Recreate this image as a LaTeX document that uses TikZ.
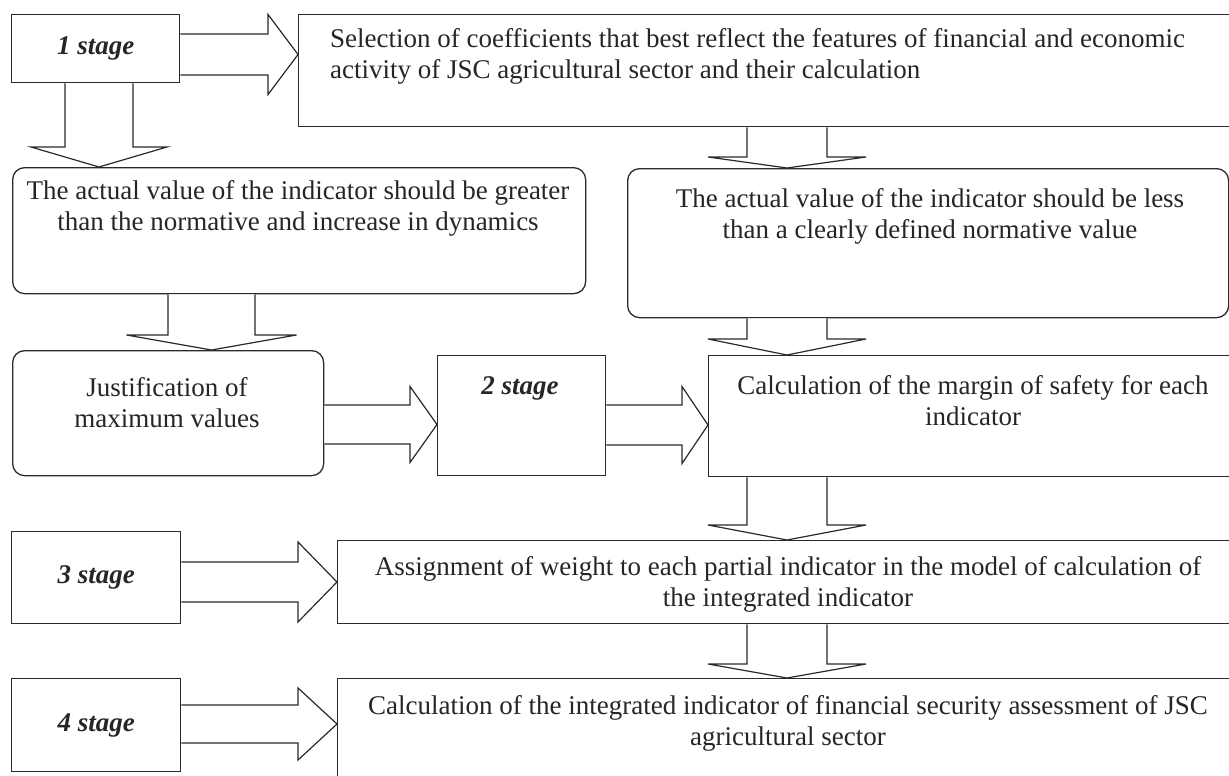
\documentclass[tikz,border=0pt]{standalone}
\usepackage{fontspec}
\setmainfont{Liberation Serif}
\usetikzlibrary{calc}
\definecolor{lc}{HTML}{2A2A2A}
\tikzset{
  x=1pt, y=-1pt,
  box/.style={draw=lc, line width=1.3pt, rectangle, anchor=north west, inner sep=0pt},
  rbox/.style={box, rounded corners=12pt},
  txt/.style={font=\fontsize{27}{31}\selectfont, align=center, inner sep=0pt, text=black!85},
  stg/.style={font=\fontsize{27}{31}\selectfont\bfseries\itshape, text=black!85},
  barrow/.style={draw=lc, line width=1.2pt, fill=white, line join=miter},
}
% horizontal block arrow: from, to, y-centre, shaft half, head half, head length
\newcommand\hblock[6]{%
  \draw[barrow] (#1.east |- 0,#3-#4)
    -- ($(#2.west |- 0,#3-#4)+(-#6,0)$)
    -- ($(#2.west |- 0,#3-#5)+(-#6,0)$)
    -- (#2.west |- 0,#3)
    -- ($(#2.west |- 0,#3+#5)+(-#6,0)$)
    -- ($(#2.west |- 0,#3+#4)+(-#6,0)$)
    -- (#1.east |- 0,#3+#4);}
% vertical block arrow: from, to, x-centre, shaft half, head half, head length
\newcommand\vblock[6]{%
  \draw[barrow] (#3-#4,0 |- #1.south)
    -- ($(#3-#4,0 |- #2.north)+(0,-#6)$)
    -- ($(#3-#5,0 |- #2.north)+(0,-#6)$)
    -- (#3,0 |- #2.north)
    -- ($(#3+#5,0 |- #2.north)+(0,-#6)$)
    -- ($(#3+#4,0 |- #2.north)+(0,-#6)$)
    -- (#3+#4,0 |- #1.south);}
\begin{document}
\begin{tikzpicture}
\useasboundingbox (0,0) rectangle (1229,776);
\clip (0,0) rectangle (1229,776);
\fill[white] (0,0) rectangle (1229,776);
% boxes
\node[box, minimum width=168pt, minimum height=68pt, stg] (s1) at (11,14) {1 stage};
\node[box, minimum width=950pt, minimum height=112pt] (sel) at (298,14) {};
\node[rbox, minimum width=573pt, minimum height=126pt] (gr) at (12,167) {};
\node[rbox, minimum width=601pt, minimum height=149pt] (less) at (627,168) {};
\node[rbox, minimum width=311pt, minimum height=125pt] (just) at (12,350) {};
\node[box, minimum width=168pt, minimum height=120pt] (s2) at (437,355) {};
\node[box, minimum width=540pt, minimum height=121pt] (mar) at (708,355) {};
\node[box, minimum width=169pt, minimum height=92pt, stg] (s3) at (11,531) {3 stage};
\node[box, minimum width=910pt, minimum height=83pt] (asg) at (337,540) {};
\node[box, minimum width=169pt, minimum height=93pt, stg] (s4) at (11,678) {4 stage};
\node[box, minimum width=910pt, minimum height=110pt] (int) at (337,678) {};
% texts
\node[txt, align=left, anchor=west] (selT) at (330,56.5) {Selection of coefficients that best reflect the features of financial and economic\\activity of JSC agricultural sector and their calculation};
\node[txt] (grT) at (298,208) {The actual value of the indicator should be greater\\than the normative and increase in dynamics};
\node[txt] (lessT) at (930,216.5) {The actual value of the indicator should be less\\than a clearly defined normative value};
\node[txt] (justT) at (167,402.5) {Justification of\\maximum values};
\node[stg] (s2T) at (520,388) {2 stage};
\node[txt] (marT) at (973,401) {Calculation of the margin of safety for each\\indicator};
\node[txt] (asgT) at (788,584) {Assignment of weight to each partial indicator in the model of calculation of\\the integrated indicator};
\node[txt] (intT) at (788,723) {Calculation of the integrated indicator of financial security assessment of JSC\\agricultural sector};
% block arrows
\hblock{s1}{sel}{54.5}{20.5}{40}{30}
\hblock{just}{s2}{424.5}{19.5}{38}{27}
\hblock{s2}{mar}{425}{20}{38.5}{26}
\hblock{s3}{asg}{582}{20}{40}{39}
\hblock{s4}{int}{724}{19}{36}{39}
\vblock{s1}{gr}{99}{34}{68}{20}
\vblock{sel}{less}{787}{40}{79}{11}
\vblock{gr}{just}{211.5}{43.5}{85}{15}
\vblock{less}{mar}{787}{40}{79}{16}
\vblock{mar}{asg}{787}{40}{79}{15}
\vblock{asg}{int}{787}{40}{79}{14}
\end{tikzpicture}
\end{document}
